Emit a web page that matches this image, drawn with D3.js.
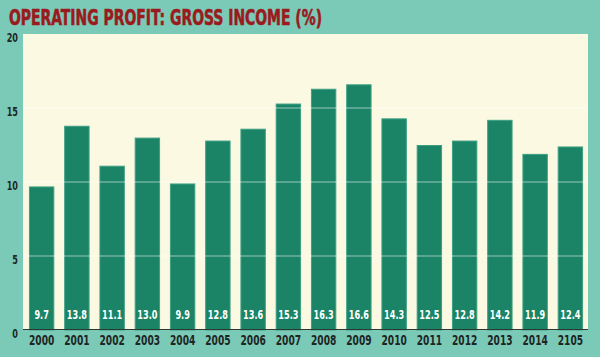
<!DOCTYPE html>
<html><head><meta charset="utf-8">
<script src="https://cdn.jsdelivr.net/npm/d3@7"></script>
<style>body{margin:0;background:#7acab7;} svg{display:block;}</style>
</head><body>
<script>
const years = ["2000","2001","2002","2003","2004","2005","2006","2007","2008","2009","2010","2011","2012","2013","2014","2105"];
const values = [9.7,13.8,11.1,13.0,9.9,12.8,13.6,15.3,16.3,16.6,14.3,12.5,12.8,14.2,11.9,12.4];
const valueLabels = ["9.7","13.8","11.1","13.0","9.9","12.8","13.6","15.3","16.3","16.6","14.3","12.5","12.8","14.2","11.9","12.4"];
const yTicks = [0,5,10,15,20];
const title = "OPERATING PROFIT: GROSS INCOME (%)";

const W = 600, H = 357;
const svg = d3.select("body").append("svg").attr("width", W).attr("height", H);
svg.append("rect").attr("width", W).attr("height", H).attr("fill", "#7acab7");

const x = d3.scaleBand().domain(years).range([24, 588]).paddingInner(0.28).paddingOuter(0.14);
const y = d3.scaleLinear().domain([0, 20]).range([330, 34]);
const cond = "'Liberation Sans Narrow','DejaVu Sans Condensed','Roboto Condensed',sans-serif";

svg.append("rect").attr("x", 23).attr("y", y(20)).attr("width", 565).attr("height", y(0) - y(20)).attr("fill", "#fbf9e2");

svg.selectAll("rect.bar").data(values).join("rect").attr("class", "bar")
  .attr("x", (d, i) => x(years[i]) + 0.5).attr("y", d => y(d) + 0.5)
  .attr("width", x.bandwidth() - 1).attr("height", d => y(0) - y(d) - 0.5)
  .attr("fill", "#1b8466").attr("stroke", "#3c9f82").attr("stroke-width", 1);

svg.selectAll("line.grid").data(yTicks.filter(t => t > 0 && t < 20)).join("line").attr("class", "grid")
  .attr("x1", 23).attr("x2", 588).attr("y1", d => y(d)).attr("y2", d => y(d))
  .attr("stroke", "#ffffff").attr("stroke-opacity", 0.55).attr("stroke-width", 1);

svg.append("line").attr("x1", 23).attr("x2", 588).attr("y1", y(0) - 0.5).attr("y2", y(0) - 0.5)
  .attr("stroke", "#2a3a33").attr("stroke-width", 1.2);

svg.selectAll("text.val").data(valueLabels).join("text").attr("class", "val")
  .attr("transform", (d, i) => `translate(${x(years[i]) + x.bandwidth() / 2},319) scale(0.7,1)`)
  .attr("text-anchor", "middle").attr("fill", "#ffffff")
  .attr("font-family", cond).attr("font-weight", "bold").attr("font-size", 13).text(d => d);

svg.selectAll("text.yr").data(years).join("text").attr("class", "yr")
  .attr("transform", d => `translate(${x(d) + x.bandwidth() / 2},345) scale(0.75,1)`)
  .attr("text-anchor", "middle").attr("fill", "#1e2523")
  .attr("font-family", cond).attr("font-weight", "bold").attr("font-size", 13.5).text(d => d);

svg.selectAll("text.yt").data(yTicks).join("text").attr("class", "yt")
  .attr("transform", d => `translate(18,${y(d) + 8}) scale(0.72,1)`)
  .attr("text-anchor", "end").attr("fill", "#1e2523")
  .attr("font-family", cond).attr("font-weight", "bold").attr("font-size", 12.5).text(d => d);

svg.append("text").attr("x", 9).attr("y", 25).attr("fill", "#9a1a1e")
  .attr("font-family", cond).attr("font-weight", "bold").attr("font-size", 22)
  .attr("stroke", "#9a1a1e").attr("stroke-width", 0.6)
  .attr("textLength", 313).attr("lengthAdjust", "spacingAndGlyphs").text(title);
</script>
</body></html>
